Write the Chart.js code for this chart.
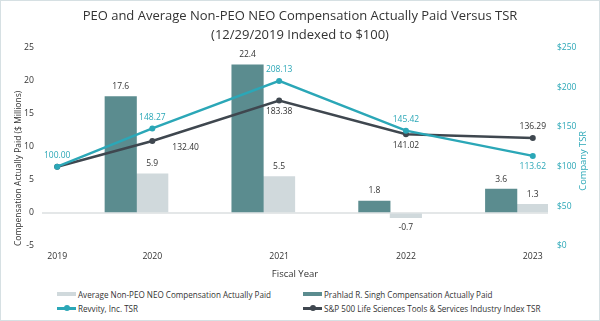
<!DOCTYPE html>
<html>
<head>
<meta charset="utf-8">
<script src="https://cdn.jsdelivr.net/npm/chart.js@4"></script>
<style>
  html, body { margin: 0; padding: 0; background: #fff; }
  #wrap { position: relative; width: 600px; height: 321px; font-family: "Open Sans", sans-serif; color: #333; }
  #frame { position: absolute; left: 0; top: 0; right: 0; bottom: 0; border: 1.5px solid #d6e0e3; pointer-events: none; }
  #box { position: absolute; left: 0; top: 0; width: 600px; height: 286px; }
  #legend { position: absolute; left: 0; top: 287px; width: 600px; font-size: 8.1px; }
  .item { position: absolute; display: flex; align-items: center; height: 14px; white-space: nowrap; }
  .sw { position: relative; width: 19px; height: 14px; margin-right: 2px; }
  .sw .bar { position: absolute; left: 0; top: 5px; width: 19px; height: 4px; }
  .sw .ln { position: absolute; left: 0; top: 6px; width: 19px; height: 2.5px; }
  .sw .dot { position: absolute; left: 6.5px; top: 4px; width: 6px; height: 6px; border-radius: 50%; }
</style>
</head>
<body>
<div id="wrap">
  <div id="box"><canvas id="tsrChart"></canvas></div>
  <div id="legend"></div>
  <div id="frame"></div>
</div>
<script>
// ------------------------------------------------------
// DATA
// ------------------------------------------------------
const years = ["2019", "2020", "2021", "2022", "2023"];
const barYears = ["2020", "2021", "2022", "2023"];

// compensation actually paid, $ millions
const peoPaid = [17.6, 22.4, 1.8, 3.6];
const neoPaid = [5.9, 5.5, -0.7, 1.3];

// value of $100 invested 12/29/2019
const revvityTsr = [100.00, 148.27, 208.13, 145.42, 113.62];
const indexTsr = [100.00, 132.40, 183.38, 141.02, 136.29];

const leftTicks = [-5, 0, 5, 10, 15, 20, 25];
const rightTicks = [0, 50, 100, 150, 200, 250];

// ------------------------------------------------------
// COLOURS / LAYOUT
// ------------------------------------------------------
const TEAL_DARK = "#5b8c8f";
const GREY_LIGHT = "#d0d9dc";
const CYAN = "#2ba7b7";
const SLATE = "#3f474f";
const TEXT = "#333333";
const FONT = "'Open Sans'";

const X_MIN = 2019.13;
const X_MAX = 2023.12;
const EDGE_INSET = 0.12;   // base year point sits just inside the left edge
const BAR_SHIFT = -0.125;  // bar pairs sit a little left of the year mark

const xPos = (yr) => {
    const n = Number(yr);
    return n === Number(years[0]) ? X_MIN + EDGE_INSET : n;
};

const linePoints = (vals) => vals.map((v, i) => ({ x: xPos(years[i]), y: v }));
const barPoints = (vals) => vals.map((v, i) => ({ x: Number(barYears[i]) + BAR_SHIFT, y: v }));

// where each value label sits relative to its point
const revvitySpots = ["above", "above", "above", "above", "below"];
const indexSpots = [null, "right", "below", "below", "above"];


// ------------------------------------------------------
// VALUE LABELS
// ------------------------------------------------------
const valueLabels = {
    id: "valueLabels",
    afterDatasetsDraw(chart) {
        const ctx = chart.ctx;
        ctx.save();
        ctx.font = "8.5px " + FONT;
        ctx.textBaseline = "middle";

        chart.data.datasets.forEach((ds, di) => {
            const meta = chart.getDatasetMeta(di);
            meta.data.forEach((el, i) => {
                const v = ds.data[i].y;
                let x = el.x, y = el.y, align = "center";

                if (ds.type === "bar") {
                    y = v >= 0 ? el.y - 10 : el.y + 10;
                    ctx.fillStyle = TEXT;
                    ctx.textAlign = align;
                    ctx.fillText(v.toFixed(1), x, y);
                    return;
                }

                const spot = ds.spots[i];
                if (!spot) return;
                if (spot === "above") y -= 11;
                if (spot === "below") y += 11;
                if (spot === "right") { x += 20; y += 7; align = "left"; }

                ctx.fillStyle = ds.labelColor;
                ctx.textAlign = align;
                ctx.fillText(v.toFixed(2), x, y);
            });
        });

        ctx.restore();
    }
};

// right-hand axis title, reading upwards
const rightTitle = {
    id: "rightTitle",
    afterDraw(chart) {
        const ctx = chart.ctx;
        const area = chart.chartArea;
        ctx.save();
        ctx.translate(583, (area.top + area.bottom) / 2 + 14);
        ctx.rotate(-Math.PI / 2);
        ctx.font = "9.3px " + FONT;
        ctx.fillStyle = CYAN;
        ctx.textAlign = "center";
        ctx.textBaseline = "middle";
        ctx.fillText("Company TSR", 0, 0);
        ctx.restore();
    }
};


// ------------------------------------------------------
// CHART
// ------------------------------------------------------
const chart = new Chart(document.getElementById("tsrChart"), {

    type: "bar",

    data: {
        datasets: [
            {
                type: "line",
                label: "Revvity, Inc. TSR",
                data: linePoints(revvityTsr),
                yAxisID: "y2",
                borderColor: CYAN,
                backgroundColor: CYAN,
                borderWidth: 2.5,
                pointRadius: 3,
                pointBackgroundColor: CYAN,
                pointBorderWidth: 0,
                tension: 0,
                labelColor: CYAN,
                spots: revvitySpots
            },
            {
                type: "line",
                label: "S&P 500 Life Sciences Tools & Services Industry Index TSR",
                data: linePoints(indexTsr),
                yAxisID: "y2",
                borderColor: SLATE,
                backgroundColor: SLATE,
                borderWidth: 2.5,
                pointRadius: 3,
                pointBackgroundColor: SLATE,
                pointBorderWidth: 0,
                tension: 0,
                labelColor: TEXT,
                spots: indexSpots
            },
            {
                type: "bar",
                label: "Prahlad R. Singh Compensation Actually Paid",
                data: barPoints(peoPaid),
                yAxisID: "y",
                backgroundColor: TEAL_DARK,
                barThickness: 31.5
            },
            {
                type: "bar",
                label: "Average Non-PEO NEO Compensation Actually Paid",
                data: barPoints(neoPaid),
                yAxisID: "y",
                backgroundColor: GREY_LIGHT,
                barThickness: 31.5
            }
        ]
    },

    options: {
        responsive: true,
        maintainAspectRatio: false,
        animation: false,
        layout: { padding: 0 },

        plugins: {
            legend: { display: false },
            tooltip: { enabled: false },
            title: {
                display: true,
                text: [
                    "PEO and Average Non-PEO NEO Compensation Actually Paid Versus TSR",
                    "(12/29/2019 Indexed to $100)"
                ],
                color: TEXT,
                font: { family: FONT, size: 13, weight: "normal", lineHeight: 1.45 },
                padding: { top: 7, bottom: 3 }
            }
        },

        scales: {
            x: {
                type: "linear",
                min: X_MIN,
                max: X_MAX,
                offset: false,
                afterFit: (s) => { s.height = 40; },
                afterBuildTicks: (s) => {
                    s.ticks = years.map((y) => ({ value: xPos(y) }));
                },
                ticks: {
                    autoSkip: false,
                    maxRotation: 0,
                    padding: 5,
                    color: TEXT,
                    font: { family: FONT, size: 8.7 },
                    callback: (v, i) => years[i]
                },
                grid: { display: false, drawTicks: false, offset: false },
                border: { display: false },
                title: {
                    display: true,
                    text: "Fiscal Year",
                    color: TEXT,
                    font: { family: FONT, size: 9.5 },
                    padding: { top: 0, bottom: 6 }
                }
            },

            y: {
                position: "left",
                min: leftTicks[0],
                max: leftTicks[leftTicks.length - 1],
                afterFit: (s) => { s.width = 42; },
                afterBuildTicks: (s) => {
                    s.ticks = leftTicks.map((v) => ({ value: v }));
                },
                ticks: {
                    padding: 8,
                    color: TEXT,
                    font: { family: FONT, size: 8.7 }
                },
                grid: {
                    drawTicks: false,
                    lineWidth: 2,
                    color: (c) => (c.tick && c.tick.value === 0 ? "#e4e7e8" : "rgba(0,0,0,0)")
                },
                border: { display: false },
                title: {
                    display: true,
                    text: "Compensation Actually Paid ($ Millions)",
                    align: "start",
                    color: TEXT,
                    font: { family: FONT, size: 8.5 },
                    padding: { top: 13, bottom: 0 }
                }
            },

            y2: {
                position: "right",
                min: rightTicks[0],
                max: rightTicks[rightTicks.length - 1],
                afterFit: (s) => { s.width = 52; },
                afterBuildTicks: (s) => {
                    s.ticks = rightTicks.map((v) => ({ value: v }));
                },
                ticks: {
                    padding: 9,
                    color: CYAN,
                    font: { family: FONT, size: 8.5 },
                    callback: (v) => "$" + v
                },
                grid: { display: false, drawTicks: false },
                border: { display: false }
            }
        }
    },

    plugins: [valueLabels, rightTitle]
});


// ------------------------------------------------------
// LEGEND (two fixed columns)
// ------------------------------------------------------
function buildLegend() {
    const host = document.getElementById("legend");
    const ds = chart.data.datasets;
    const order = [
        { d: ds[3], left: 57, top: 0 },
        { d: ds[2], left: 303, top: 0 },
        { d: ds[0], left: 57, top: 14 },
        { d: ds[1], left: 303, top: 14 }
    ];

    order.forEach(({ d, left, top }) => {
        const item = document.createElement("div");
        item.className = "item";
        item.style.left = left + "px";
        item.style.top = top + "px";

        const sw = document.createElement("span");
        sw.className = "sw";
        if (d.type === "bar") {
            sw.innerHTML = '<span class="bar" style="background:' + d.backgroundColor + '"></span>';
        } else {
            sw.innerHTML = '<span class="ln" style="background:' + d.borderColor + '"></span>' +
                           '<span class="dot" style="background:' + d.borderColor + '"></span>';
        }

        const txt = document.createElement("span");
        txt.textContent = d.label;

        item.appendChild(sw);
        item.appendChild(txt);
        host.appendChild(item);
    });
}

buildLegend();
</script>
</body>
</html>
